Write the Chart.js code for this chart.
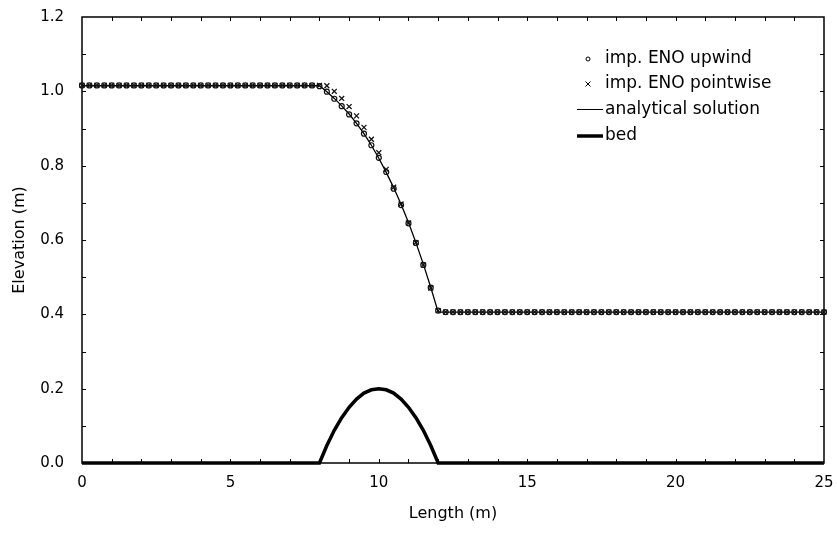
<!DOCTYPE html>
<html>
<head>
<meta charset="utf-8">
<script src="https://cdn.jsdelivr.net/npm/chart.js@4.4.1/dist/chart.umd.min.js"></script>
<style>
  html, body { margin: 0; padding: 0; background: #fff; }
</style>
</head>
<body>
<canvas id="chart" width="837" height="536"></canvas>
<script>
// grid of the numerical solutions (m)
const xGrid = [
  0, 0.25, 0.5, 0.75, 1, 1.25, 1.5, 1.75, 2, 2.25, 2.5, 2.75, 3, 3.25, 3.5, 3.75,
  4, 4.25, 4.5, 4.75, 5, 5.25, 5.5, 5.75, 6, 6.25, 6.5, 6.75, 7, 7.25, 7.5, 7.75,
  8, 8.25, 8.5, 8.75, 9, 9.25, 9.5, 9.75, 10, 10.25, 10.5, 10.75, 11, 11.25, 11.5, 11.75, 12,
  12.25, 12.5, 12.75, 13, 13.25, 13.5, 13.75, 14, 14.25, 14.5, 14.75, 15, 15.25,
  15.5, 15.75, 16, 16.25, 16.5, 16.75, 17, 17.25, 17.5, 17.75, 18, 18.25, 18.5,
  18.75, 19, 19.25, 19.5, 19.75, 20, 20.25, 20.5, 20.75, 21, 21.25, 21.5, 21.75,
  22, 22.25, 22.5, 22.75, 23, 23.25, 23.5, 23.75, 24, 24.25, 24.5, 24.75, 25
];

const upwind = [
  1.016, 1.016, 1.016, 1.016, 1.016, 1.016, 1.016, 1.016,
  1.016, 1.016, 1.016, 1.016, 1.016, 1.016, 1.016, 1.016,
  1.016, 1.016, 1.016, 1.016, 1.016, 1.016, 1.016, 1.016,
  1.016, 1.016, 1.016, 1.016, 1.016, 1.016, 1.016, 1.016,
  1.014, 0.999, 0.980, 0.960, 0.938, 0.914, 0.886, 0.855, 0.821,
  0.783, 0.738, 0.694, 0.645, 0.592, 0.533, 0.472, 0.410,
  0.406, 0.406, 0.406, 0.406, 0.406, 0.406, 0.406, 0.406, 0.406, 0.406, 0.406, 0.406, 0.406,
  0.406, 0.406, 0.406, 0.406, 0.406, 0.406, 0.406, 0.406, 0.406, 0.406, 0.406, 0.406, 0.406,
  0.406, 0.406, 0.406, 0.406, 0.406, 0.406, 0.406, 0.406, 0.406, 0.406, 0.406, 0.406, 0.406,
  0.406, 0.406, 0.406, 0.406, 0.406, 0.406, 0.406, 0.406, 0.406, 0.406, 0.406, 0.406, 0.406
];

const pointwise = [
  1.016, 1.016, 1.016, 1.016, 1.016, 1.016, 1.016, 1.016,
  1.016, 1.016, 1.016, 1.016, 1.016, 1.016, 1.016, 1.016,
  1.016, 1.016, 1.016, 1.016, 1.016, 1.016, 1.016, 1.016,
  1.016, 1.016, 1.016, 1.016, 1.016, 1.016, 1.016, 1.016,
  1.016, 1.015, 1.000, 0.981, 0.959, 0.934, 0.903, 0.871, 0.835,
  0.790, 0.742, 0.697, 0.646, 0.593, 0.533, 0.471, 0.410,
  0.406, 0.406, 0.406, 0.406, 0.406, 0.406, 0.406, 0.406, 0.406, 0.406, 0.406, 0.406, 0.406,
  0.406, 0.406, 0.406, 0.406, 0.406, 0.406, 0.406, 0.406, 0.406, 0.406, 0.406, 0.406, 0.406,
  0.406, 0.406, 0.406, 0.406, 0.406, 0.406, 0.406, 0.406, 0.406, 0.406, 0.406, 0.406, 0.406,
  0.406, 0.406, 0.406, 0.406, 0.406, 0.406, 0.406, 0.406, 0.406, 0.406, 0.406, 0.406, 0.406
];

// analytical water surface and bed profile
const xProfile = [0, 8, 8.25, 8.5, 8.75, 9, 9.25, 9.5, 9.75, 10, 10.25, 10.5, 10.75, 11, 11.25, 11.5, 11.75, 12, 25];
const analytical = [1.015, 1.015, 0.999, 0.981, 0.961, 0.939, 0.914, 0.886, 0.855, 0.820, 0.782, 0.741, 0.696, 0.647, 0.593, 0.535, 0.473, 0.406, 0.406];
const bed = [0, 0, 0.047, 0.088, 0.122, 0.150, 0.172, 0.188, 0.197, 0.200, 0.197, 0.188, 0.172, 0.150, 0.122, 0.088, 0.047, 0, 0];

const xTicks = [0, 5, 10, 15, 20, 25];
const yTicks = [0, 0.2, 0.4, 0.6, 0.8, 1.0, 1.2];
const legendLabels = ['imp. ENO upwind', 'imp. ENO pointwise', 'analytical solution', 'bed'];

const toPoints = (xs, ys) => xs.map((x, i) => ({ x: x, y: ys[i] }));

Chart.defaults.font.family = '"DejaVu Sans", sans-serif';
Chart.defaults.color = '#000';

// box round the plot with small inward ticks on all four sides
const framePlugin = {
  id: 'frame',
  beforeDatasetsDraw(chart) {
    const { ctx, chartArea: a, scales } = chart;
    const x = scales.x, y = scales.y;
    ctx.save();
    ctx.strokeStyle = '#000';
    ctx.lineWidth = 1;
    ctx.beginPath();
    for (let v = 1; v < 25; v++) {
      const px = Math.round(x.getPixelForValue(v)) + 0.5;
      ctx.moveTo(px, a.bottom); ctx.lineTo(px, a.bottom - 4);
      ctx.moveTo(px, a.top); ctx.lineTo(px, a.top + 4);
    }
    for (let i = 1; i < 12; i++) {
      const py = Math.round(y.getPixelForValue(i / 10)) + 0.5;
      ctx.moveTo(a.left, py); ctx.lineTo(a.left + 4, py);
      ctx.moveTo(a.right, py); ctx.lineTo(a.right - 4, py);
    }
    ctx.stroke();
    ctx.lineWidth = 1.5;
    ctx.strokeRect(a.left, a.top, a.right - a.left, a.bottom - a.top);
    ctx.restore();
  }
};

// legend inside the plot, upper right
const legendPlugin = {
  id: 'innerLegend',
  afterDraw(chart) {
    const ctx = chart.ctx;
    const rows = [59, 84, 109.5, 136];
    const textX = 605;
    ctx.save();
    ctx.strokeStyle = '#000';
    ctx.fillStyle = '#000';
    // circle
    ctx.lineWidth = 1;
    ctx.beginPath();
    ctx.arc(588, rows[0], 2, 0, Math.PI * 2);
    ctx.stroke();
    // cross
    ctx.beginPath();
    ctx.moveTo(585.5, rows[1] - 2.5); ctx.lineTo(590.5, rows[1] + 2.5);
    ctx.moveTo(590.5, rows[1] - 2.5); ctx.lineTo(585.5, rows[1] + 2.5);
    ctx.stroke();
    // thin line
    ctx.beginPath();
    ctx.moveTo(577, rows[2]); ctx.lineTo(603, rows[2]);
    ctx.stroke();
    // thick line
    ctx.lineWidth = 3.5;
    ctx.beginPath();
    ctx.moveTo(577, rows[3]); ctx.lineTo(603, rows[3]);
    ctx.stroke();
    ctx.font = '17px "DejaVu Sans", sans-serif';
    ctx.textBaseline = 'middle';
    legendLabels.forEach((t, i) => ctx.fillText(t, textX, Math.round(rows[i])));
    ctx.restore();
  }
};

new Chart(document.getElementById('chart'), {
  type: 'scatter',
  data: {
    datasets: [
      {
        label: legendLabels[0],
        data: toPoints(xGrid, upwind),
        pointStyle: 'circle',
        pointRadius: 2.5,
        pointBorderWidth: 1.2,
        pointBorderColor: '#111',
        pointBackgroundColor: 'rgba(255,255,255,0)',
        showLine: false,
        clip: false
      },
      {
        label: legendLabels[1],
        data: toPoints(xGrid, pointwise),
        pointStyle: 'crossRot',
        pointRadius: 3.5,
        pointBorderWidth: 1.3,
        pointBorderColor: '#111',
        showLine: false,
        clip: false
      },
      {
        label: legendLabels[2],
        data: toPoints(xProfile, analytical),
        showLine: true,
        borderColor: '#000',
        borderWidth: 1.3,
        pointRadius: 0,
        clip: false
      },
      {
        label: legendLabels[3],
        data: toPoints(xProfile, bed),
        showLine: true,
        borderColor: '#000',
        borderWidth: 3.5,
        pointRadius: 0,
        clip: false
      }
    ]
  },
  options: {
    responsive: false,
    animation: false,
    layout: { padding: { top: 17, right: 13, left: 0, bottom: 0 } },
    plugins: {
      legend: { display: false },
      tooltip: { enabled: false }
    },
    scales: {
      x: {
        type: 'linear',
        min: 0,
        max: 25,
        afterFit(scale) { scale.height = 73; },
        afterBuildTicks(scale) { scale.ticks = xTicks.map(v => ({ value: v })); },
        grid: { display: true, drawOnChartArea: false, drawTicks: true, tickLength: 11, tickColor: 'rgba(0,0,0,0)' },
        border: { display: false },
        ticks: { padding: 0, font: { size: 15 }, callback: v => String(v) },
        title: { display: true, text: 'Length (m)', font: { size: 16 }, padding: { top: 0, bottom: 13 } }
      },
      y: {
        type: 'linear',
        min: 0,
        max: 1.2,
        afterFit(scale) { scale.width = 82; },
        afterBuildTicks(scale) { scale.ticks = yTicks.map(v => ({ value: v })); },
        grid: { display: true, drawOnChartArea: false, drawTicks: true, tickLength: 18, tickColor: 'rgba(0,0,0,0)' },
        border: { display: false },
        ticks: { padding: 0, font: { size: 15 }, callback: v => Number(v).toFixed(1) },
        title: { display: true, text: 'Elevation (m)', font: { size: 16 }, padding: { top: 10, bottom: 0 } }
      }
    }
  },
  plugins: [framePlugin, legendPlugin]
});
</script>
</body>
</html>
